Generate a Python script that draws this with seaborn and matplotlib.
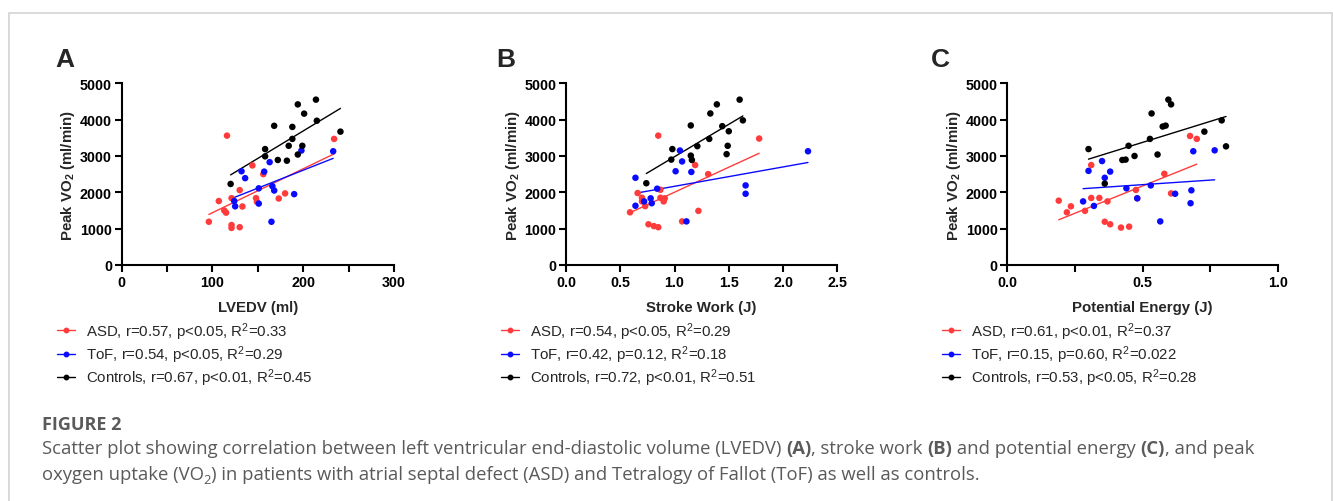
import matplotlib
matplotlib.use("Agg")
import matplotlib.pyplot as plt
from matplotlib.lines import Line2D
from matplotlib.patches import Rectangle
from matplotlib.ticker import MultipleLocator, FormatStrFormatter
import numpy as np
import pandas as pd
import seaborn as sns

# ---------------- data ----------------
# Panel A: LVEDV (ml) vs Peak VO2 (ml/min)
asd_lvedv = [96, 107, 113, 115, 121, 121, 121, 116, 130, 130, 133, 144, 148, 149, 156, 173, 180, 234]
asd_vo2_a = [1190, 1760, 1500, 1440, 1840, 1100, 1020, 3560, 2060, 1040, 1610, 2740, 1840, 1740, 2500, 1830, 1970, 3470]
tof_lvedv = [132, 136, 124, 125, 151, 151, 157, 163, 166, 168, 165, 190, 198, 233]
tof_vo2_a = [2580, 2390, 1760, 1615, 2110, 1690, 2570, 2830, 2170, 2050, 1190, 1950, 3150, 3130]
ctl_lvedv = [120, 158, 158, 168, 172, 182, 184, 188, 188, 194, 199, 194, 201, 214, 215, 241]
ctl_vo2_a = [2230, 3190, 2990, 3830, 2890, 2870, 3280, 3470, 3800, 4420, 3280, 3040, 4165, 4550, 3970, 3670]

# Panel B: Stroke work (J) vs Peak VO2
asd_sw = [0.59, 0.66, 0.70, 0.70, 0.73, 0.76, 0.81, 0.85, 0.85, 0.87, 0.87, 0.90, 0.91, 1.07, 1.19, 1.22, 1.31, 1.78]
asd_vo2_b = [1450, 1980, 1850, 1750, 1620, 1120, 1070, 1040, 3560, 2070, 1850, 1750, 1835, 1200, 2750, 1490, 2500, 3480]
tof_sw = [0.64, 0.64, 0.72, 0.78, 0.79, 0.84, 1.05, 1.01, 1.07, 1.11, 1.155, 1.655, 1.655, 2.23]
tof_vo2_b = [2400, 1630, 1750, 1835, 1700, 2100, 3150, 2580, 2850, 1200, 2560, 2190, 1960, 3130]
ctl_sw = [0.74, 0.98, 0.97, 1.15, 1.15, 1.16, 1.21, 1.32, 1.33, 1.39, 1.44, 1.48, 1.49, 1.50, 1.60, 1.63]
ctl_vo2_b = [2250, 3190, 2900, 3840, 3010, 2890, 3270, 3470, 4170, 4420, 3820, 3050, 3280, 3680, 4550, 3980]

# Panel C: Potential energy (J) vs Peak VO2
asd_pe = [0.19, 0.22, 0.235, 0.287, 0.31, 0.31, 0.34, 0.36, 0.38, 0.37, 0.42, 0.45, 0.475, 0.48, 0.58, 0.605, 0.675, 0.70]
asd_vo2_c = [1770, 1450, 1615, 1490, 2750, 1845, 1845, 1190, 1120, 1750, 1030, 1055, 2065, 1835, 2510, 1970, 3550, 3470]
tof_pe = [0.28, 0.30, 0.32, 0.35, 0.36, 0.38, 0.44, 0.48, 0.53, 0.565, 0.62, 0.68, 0.677, 0.687, 0.766]
tof_vo2_c = [1750, 2590, 1625, 2860, 2400, 2570, 2110, 1835, 2190, 1200, 1960, 2055, 1700, 3130, 3155]
ctl_pe = [0.30, 0.36, 0.425, 0.437, 0.448, 0.47, 0.527, 0.533, 0.555, 0.574, 0.585, 0.595, 0.605, 0.728, 0.792, 0.808]
ctl_vo2_c = [3190, 2240, 2890, 2900, 3280, 3000, 3470, 4170, 3040, 3810, 3835, 4550, 4420, 3670, 3980, 3265]

groups = ["ASD", "ToF", "Controls"]
legend_a = ["ASD, r=0.57, p<0.05, R$^2$=0.33", "ToF, r=0.54, p<0.05, R$^2$=0.29",
            "Controls, r=0.67, p<0.01, R$^2$=0.45"]
legend_b = ["ASD, r=0.54, p<0.05, R$^2$=0.29", "ToF, r=0.42, p=0.12, R$^2$=0.18",
            "Controls, r=0.72, p<0.01, R$^2$=0.51"]
legend_c = ["ASD, r=0.61, p<0.01, R$^2$=0.37", "ToF, r=0.15, p=0.60, R$^2$=0.022",
            "Controls, r=0.53, p<0.05, R$^2$=0.28"]

palette = {"ASD": "#ff3b3b", "ToF": "#0a0aff", "Controls": "#000000"}


def make_df(xs, ys):
    rows = []
    for g, x, y in zip(groups, xs, ys):
        for a, b in zip(x, y):
            rows.append((g, a, b))
    return pd.DataFrame(rows, columns=["group", "x", "y"])


df_a = make_df([asd_lvedv, tof_lvedv, ctl_lvedv], [asd_vo2_a, tof_vo2_a, ctl_vo2_a])
df_b = make_df([asd_sw, tof_sw, ctl_sw], [asd_vo2_b, tof_vo2_b, ctl_vo2_b])
df_c = make_df([asd_pe, tof_pe, ctl_pe], [asd_vo2_c, tof_vo2_c, ctl_vo2_c])

# ---------------- style ----------------
sns.set_theme(style="ticks")
plt.rcParams["font.family"] = ["Liberation Sans", "DejaVu Sans"]
plt.rcParams["mathtext.fontset"] = "custom"
plt.rcParams["mathtext.rm"] = "Liberation Sans"
plt.rcParams["mathtext.bf"] = "Liberation Sans:bold"
plt.rcParams["mathtext.it"] = "Liberation Sans:italic"

W, H = 1333, 502
fig = plt.figure(figsize=(W / 100, H / 100), dpi=100)
fig.patch.set_facecolor("white")

# outer frame
fig.patches.append(Rectangle((9 / W, -0.1), (1331.5 - 9) / W, 1.1 - 14 / H,
                             transform=fig.transFigure, fill=False,
                             edgecolor="#d3d3d3", linewidth=1.2))

panels = [
    dict(df=df_a, rect=[121.7 / W, 1 - 266 / H, 272.3 / W, 181.7 / H], xlim=(0, 300),
         major=100, minor=50, fmt="%d", xlabel="LVEDV (ml)", letter="A", lx=55,
         legend=legend_a, legx=56.7),
    dict(df=df_b, rect=[566 / W, 1 - 266 / H, 271.3 / W, 181.7 / H], xlim=(0, 2.5),
         major=0.5, minor=None, fmt="%.1f", xlabel="Stroke Work (J)", letter="B", lx=496,
         legend=legend_b, legx=500.7),
    dict(df=df_c, rect=[1007.3 / W, 1 - 266 / H, 270.7 / W, 181.7 / H], xlim=(0, 1.0),
         major=0.5, minor=0.25, fmt="%.1f", xlabel="Potential Energy (J)", letter="C", lx=931,
         legend=legend_c, legx=941.7),
]

for p in panels:
    ax = fig.add_axes(p["rect"])
    df = p["df"]
    for g in groups:
        sub = df[df.group == g]
        sns.regplot(data=sub, x="x", y="y", ax=ax, scatter=False, ci=None, truncate=True,
                    color=palette[g], line_kws={"lw": 1.0})
    sns.scatterplot(data=df, x="x", y="y", hue="group", palette=palette, ax=ax,
                    s=22, linewidth=0, legend=False, zorder=3)
    ax.set_xlim(*p["xlim"])
    ax.set_ylim(0, 5000)
    ax.xaxis.set_major_locator(MultipleLocator(p["major"]))
    if p["minor"]:
        ax.xaxis.set_minor_locator(MultipleLocator(p["minor"]))
    ax.xaxis.set_major_formatter(FormatStrFormatter(p["fmt"]))
    ax.yaxis.set_major_locator(MultipleLocator(1000))
    sns.despine(ax=ax)
    for s in ("left", "bottom"):
        ax.spines[s].set_linewidth(1.5)
        ax.spines[s].set_color("black")
    ax.tick_params(axis="both", which="major", length=5, width=1.5, pad=2,
                   labelsize=10.3, color="black", labelcolor="black")
    ax.tick_params(axis="x", which="minor", length=5, width=1.5, color="black")
    for lab in ax.get_xticklabels() + ax.get_yticklabels():
        lab.set_fontweight("bold")
    ax.set_xlabel(p["xlabel"], fontsize=10.8, fontweight="bold", labelpad=8)
    ax.set_ylabel(r"Peak VO$_\mathbf{2}$ (ml/min)", fontsize=10.8, fontweight="bold", labelpad=2)
    ax.set_facecolor("white")

    fig.text(p["lx"] / W, 1 - 67 / H, p["letter"], fontsize=19, fontweight="bold",
             va="baseline", ha="left")

    handles = [Line2D([0], [0], color=palette[g], lw=1.0, marker="o", markersize=3.2)
               for g in groups]
    fig.legend(handles, p["legend"], loc="upper left",
               bbox_to_anchor=(p["legx"] / W, 1 - 321 / H), bbox_transform=fig.transFigure,
               frameon=False, fontsize=10.8, handlelength=1.25, handletextpad=0.72,
               labelspacing=0.12, borderpad=0, borderaxespad=0)

# ---------------- caption ----------------
grey = "#5a5a5a"
cap_font = ["Open Sans", "DejaVu Sans"]
fig.text(41.7 / W, 1 - 430 / H, "FIGURE 2", fontsize=13, fontweight="bold",
         color=grey, family=cap_font, va="baseline")

renderer = fig.canvas.get_renderer()


def rich_line(x_px, base_px, segments, size=13.3):
    x = x_px / W
    for text, kind in segments:
        kw = dict(color=grey, family=cap_font, va="baseline", ha="left")
        y = 1 - base_px / H
        fs = size
        if kind == "b":
            kw["fontweight"] = "bold"
        if kind == "sub":
            fs = size * 0.7
            y -= 4 / H
        t = fig.text(x, y, text, fontsize=fs, **kw)
        bb = t.get_window_extent(renderer)
        x += bb.width / fig.bbox.width


line1 = [("Scatter plot showing correlation between left ventricular end-diastolic volume (LVEDV) ", "n"),
         ("(A)", "b"), (", stroke work ", "n"), ("(B)", "b"), (" and potential energy ", "n"),
         ("(C)", "b"), (", and peak", "n")]
line2 = [("oxygen uptake (VO", "n"), ("2", "sub"),
         (") in patients with atrial septal defect (ASD) and Tetralogy of Fallot (ToF) as well as controls.", "n")]
rich_line(41.7, 454, line1)
rich_line(41.7, 480, line2)

fig.savefig("out.png", dpi=100, facecolor="white")
